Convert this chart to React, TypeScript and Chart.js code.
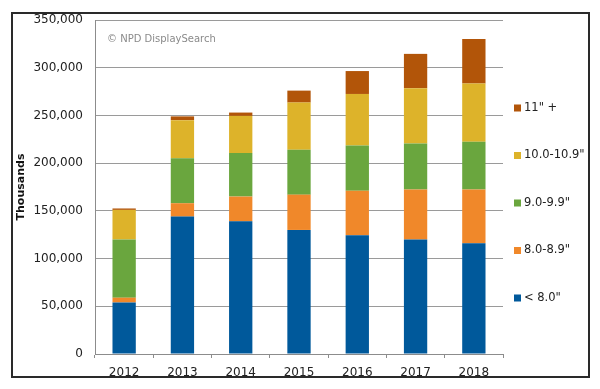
import React, { useEffect, useRef } from "react";
import { Chart, registerables } from "chart.js";

Chart.register(...registerables);

const years = ["2012", "2013", "2014", "2015", "2016", "2017", "2018"];
const seriesLabels = ['< 8.0"', '8.0-8.9"', '9.0-9.9"', '10.0-10.9"', '11" +'];
const under8 = [54000, 144000, 139000, 130000, 124500, 120000, 116000];
const r8to89 = [5000, 14000, 26000, 37000, 46500, 52500, 56500];
const r9to99 = [61000, 47000, 45500, 47000, 47500, 48000, 50000];
const r10to109 = [31000, 40000, 39000, 49500, 54000, 58000, 61000];
const r11plus = [1500, 4000, 3500, 12500, 24000, 36000, 46500];
const colors = ["#00599B", "#F0882A", "#6AA63E", "#DDB32A", "#B25509"];
const yTickMax = 350000;
const yTickStep = 50000;
const yTitle = "Thousands";
const watermark = "\u00A9 NPD DisplaySearch";

const FONT = "'DejaVu Sans', Verdana, sans-serif";

const decorPlugin = {
  id: "decor",
  afterDraw(chart: any) {
    const ctx = chart.ctx;
    const area = chart.chartArea;
    ctx.save();
    // outer frame
    ctx.strokeStyle = "#2a2a2a";
    ctx.lineWidth = 2;
    ctx.strokeRect(12, 13, 577, 364);
    // watermark
    ctx.fillStyle = "#8a8a8a";
    ctx.font = "10px " + FONT;
    ctx.textAlign = "left";
    ctx.textBaseline = "middle";
    ctx.fillText(watermark, area.left + 12, area.top + 19);
    // legend (reversed)
    const ds = chart.data.datasets;
    ctx.font = "11.5px " + FONT;
    const n = ds.length;
    for (let i = 0; i < n; i++) {
      const d = ds[n - 1 - i];
      const cy = 108 + i * 47.5;
      ctx.fillStyle = d.backgroundColor;
      ctx.fillRect(514, cy - 3.5, 7, 7);
      ctx.fillStyle = "#222";
      ctx.fillText(d.label, 524, cy);
    }
    ctx.restore();
  },
};

export default function App() {
  const ref = useRef<HTMLCanvasElement | null>(null);
  useEffect(() => {
    if (!ref.current) return;
    const datasets = [under8, r8to89, r9to99, r10to109, r11plus].map((data, i) => ({
      label: seriesLabels[i],
      data,
      backgroundColor: colors[i],
      borderWidth: 0,
      categoryPercentage: 1,
      barPercentage: 0.4,
    }));
    const chart = new Chart(ref.current, {
      type: "bar",
      data: { labels: years, datasets },
      options: {
        animation: false,
        responsive: false,
        layout: { padding: { left: 0, right: 97, top: 20, bottom: 0 } },
        plugins: {
          legend: { display: false },
          tooltip: { enabled: false },
        },
        scales: {
          x: {
            stacked: true,
            grid: {
              offset: true,
              drawOnChartArea: false,
              drawTicks: true,
              tickLength: 4,
              color: "#8c8c8c",
            },
            border: { display: true, color: "#8c8c8c", width: 1 },
            ticks: { color: "#222", font: { family: FONT, size: 12 }, padding: 8 },
            afterFit: (s: any) => {
              s.height = 35;
            },
          },
          y: {
            stacked: true,
            min: 0,
            max: yTickMax,
            grid: { color: "#9a9a9a", drawTicks: false },
            border: { display: true, color: "#8c8c8c", width: 1 },
            ticks: {
              stepSize: yTickStep,
              padding: 12,
              color: "#222",
              font: { family: FONT, size: 12 },
              callback: (v: any) => Number(v).toLocaleString("en-US"),
            },
            title: {
              display: true,
              text: yTitle,
              color: "#111",
              font: { family: FONT, size: 11, weight: "bold" },
              padding: { top: 15, bottom: 0 },
            },
            afterFit: (s: any) => {
              s.width = 95;
            },
          },
        },
      },
      plugins: [decorPlugin],
    });
    return () => chart.destroy();
  }, []);
  return (
    <div style={{ position: "fixed", left: 0, top: 0, width: 600, height: 389, background: "#fff" }}>
      <canvas ref={ref} width={600} height={389} style={{ display: "block" }} />
    </div>
  );
}
